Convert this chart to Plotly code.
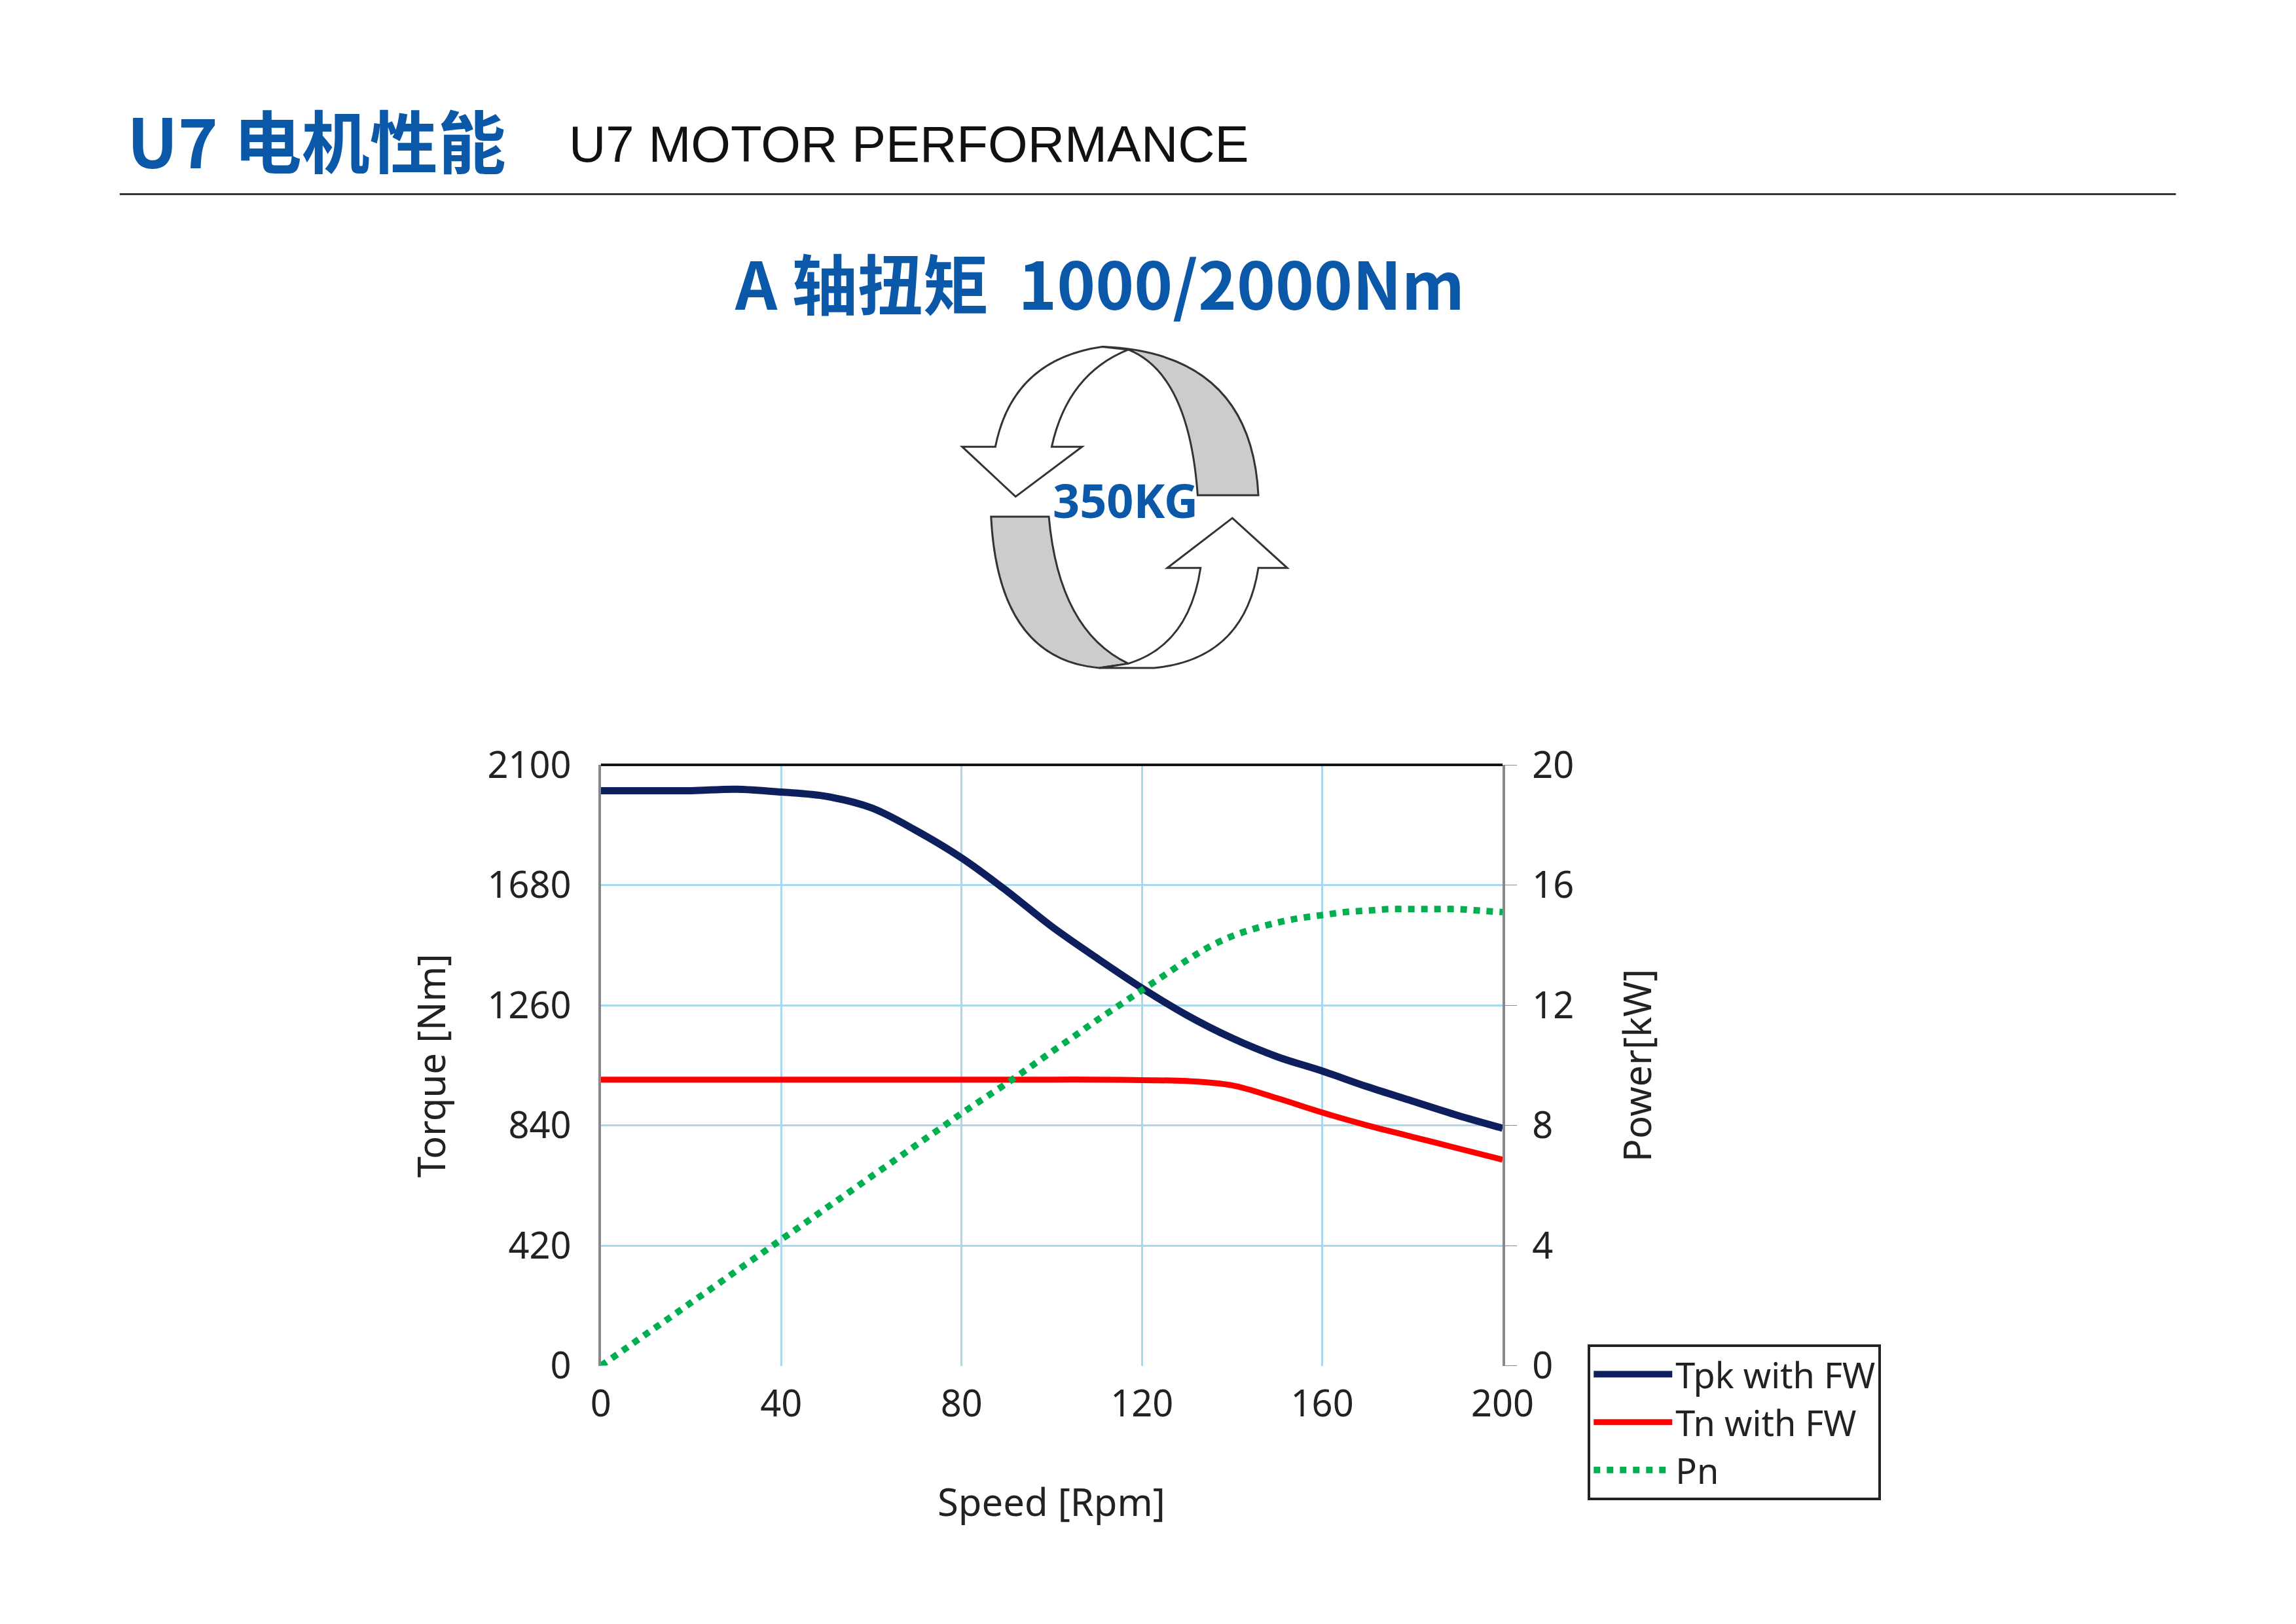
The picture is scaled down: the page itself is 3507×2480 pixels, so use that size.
import plotly.graph_objects as go

W, H = 3507, 2480
S = W / 1560.0  # reference drawn at ~1560 px wide

speed = [0, 10, 20, 30, 40, 50, 60, 70, 80, 90, 100, 110, 120, 130, 140, 150, 160, 170, 180, 190, 200]
tpk = [2010, 2010, 2010, 2015, 2005, 1990, 1950, 1870, 1775, 1660, 1535, 1425, 1320, 1225, 1145, 1080, 1030, 975, 925, 875, 830]
tn = [1000, 1000, 1000, 1000, 1000, 1000, 1000, 1000, 1000, 1000, 1000, 1000, 998, 995, 980, 935, 885, 840, 800, 760, 720]
pn_speed = [0, 5, 10, 15, 20, 25, 30, 35, 40, 45, 50, 55, 60, 65, 70, 75, 80, 85, 90, 95, 100,
            105, 110, 115, 120, 125, 130, 135, 140, 145, 150, 155, 160, 165, 170, 175, 180, 185, 190, 195, 200]
pn = [0, 0.52, 1.05, 1.57, 2.1, 2.62, 3.15, 3.67, 4.2, 4.72, 5.25, 5.77, 6.3, 6.82, 7.35, 7.87, 8.4, 8.9, 9.4, 9.92, 10.45,
      10.97, 11.5, 12.0, 12.5, 13.0, 13.5, 13.95, 14.3, 14.55, 14.75, 14.9, 15.0, 15.1, 15.15, 15.2, 15.2, 15.2, 15.2, 15.15, 15.1]

BLUE = "#0b57a8"
FONT = "Noto Sans"


def px(x):
    return x / 1560.0


def py(y):
    return 1 - y * S / H


fig = go.Figure()
fig.add_trace(go.Scatter(x=speed, y=tpk, name="Tpk with FW", mode="lines",
                         line=dict(color="#0d1f5c", width=11), line_shape="spline"))
fig.add_trace(go.Scatter(x=speed, y=tn, name="Tn with FW", mode="lines",
                         line=dict(color="#ff0000", width=9), line_shape="spline"))
fig.add_trace(go.Scatter(x=pn_speed, y=pn, name="Pn", mode="lines", yaxis="y2",
                         line=dict(color="#00b050", width=10, dash="dot"), line_shape="spline"))

x0, x1 = px(405), px(1029)
y0, y1 = py(935), py(514)
grid = "#a8d8f0"
tickf = dict(family=FONT, size=56, color="#222")

fig.update_layout(
    width=W, height=H, paper_bgcolor="white", plot_bgcolor="white",
    margin=dict(l=0, r=0, t=0, b=0), showlegend=True,
    font=dict(family=FONT),
    xaxis=dict(domain=[x0, x1], range=[0, 200], tickvals=[0, 40, 80, 120, 160, 200],
               showgrid=True, gridcolor=grid, gridwidth=3, zeroline=False,
               showline=False, ticks="", tickfont=tickf, ticklabelstandoff=20),
    yaxis=dict(domain=[y0, y1], range=[0, 2100], tickvals=[0, 420, 840, 1260, 1680, 2100],
               showgrid=True, gridcolor=grid, gridwidth=3, zeroline=False,
               showline=True, linecolor="#888", linewidth=4, ticks="outside",
               ticklen=0, tickfont=tickf, ticklabelstandoff=30),
    yaxis2=dict(overlaying="y", side="right", range=[0, 20], tickvals=[0, 4, 8, 12, 16, 20],
                showgrid=False, zeroline=False, showline=True, linecolor="#888", linewidth=4,
                ticks="outside", ticklen=18, tickcolor="#888", tickfont=tickf, ticklabelstandoff=12),
    legend=dict(x=px(1088), y=py(920), xanchor="left", yanchor="top",
                bordercolor="#222", borderwidth=4, bgcolor="white",
                font=dict(family=FONT, size=54, color="#222"),
                itemwidth=120, tracegroupgap=30),
)

shapes = [
    dict(type="line", xref="paper", yref="paper", x0=px(72), x1=px(1495), y0=py(114), y1=py(114),
         line=dict(color="#333", width=3)),
    dict(type="line", xref="paper", yref="paper", x0=x0, x1=x1, y0=y1, y1=y1,
         line=dict(color="#111", width=4)),
]


def path(pts):
    s = ""
    for cmd, *coords in pts:
        s += cmd
        vals = []
        for i in range(0, len(coords), 2):
            vals.append(f"{px(coords[i])},{py(coords[i+1])}")
        s += " ".join(vals) + " "
    return s + "Z"


icon = dict(xref="paper", yref="paper", line=dict(color="#333", width=3))
# top right gray band
shapes.append(dict(type="path", fillcolor="#cccccc", **icon, path=path([
    ("M", 752, 221), ("Q", 855, 225, 860, 325), ("L", 818, 325), ("Q", 812, 240, 770, 223)])))
# top left white arrow
shapes.append(dict(type="path", fillcolor="white", **icon, path=path([
    ("M", 752, 221), ("Q", 690, 230, 678, 291), ("L", 655, 291), ("L", 692, 326), ("L", 738, 291),
    ("L", 717, 291), ("Q", 728, 240, 770, 223)])))
# bottom left gray band
shapes.append(dict(type="path", fillcolor="#cccccc", **icon, path=path([
    ("M", 675, 340), ("L", 715, 340), ("Q", 722, 420, 770, 443), ("L", 750, 446),
    ("Q", 680, 440, 675, 340)])))
# bottom right white arrow
shapes.append(dict(type="path", fillcolor="white", **icon, path=path([
    ("M", 770, 443), ("Q", 812, 430, 820, 376), ("L", 797, 376), ("L", 842, 341), ("L", 880, 376),
    ("L", 860, 376), ("Q", 850, 440, 788, 446), ("L", 750, 446)])))
fig.update_layout(shapes=shapes)

ann = [
    dict(x=px(76), y=py(75), text="<b>U7 电机性能</b>", font=dict(size=104, color=BLUE, family="Noto Sans CJK SC"),
         xanchor="left", yanchor="middle"),
    dict(x=px(382), y=py(79), text="U7 MOTOR PERFORMANCE", font=dict(size=78, color="#111", family="Liberation Sans"),
         xanchor="left", yanchor="middle"),
    dict(x=px(750), y=py(175), text="<b>A 轴扭矩  1000/2000Nm</b>", font=dict(size=100, color=BLUE, family="Noto Sans CJK SC"),
         xanchor="center", yanchor="middle"),
    dict(x=px(768), y=py(328), text="<b>350KG</b>", font=dict(size=72, color=BLUE, family=FONT),
         xanchor="center", yanchor="middle"),
    dict(x=px(287), y=(y0 + y1) / 2, text="Torque [Nm]", textangle=-90, font=dict(size=58, color="#222", family=FONT),
         xanchor="center", yanchor="middle"),
    dict(x=px(1122), y=(y0 + y1) / 2, text="Power[kW]", textangle=-90, font=dict(size=58, color="#222", family=FONT),
         xanchor="center", yanchor="middle"),
    dict(x=(x0 + x1) / 2, y=py(1030), text="Speed [Rpm]", font=dict(size=58, color="#222", family=FONT),
         xanchor="center", yanchor="middle"),
]
for a in ann:
    a.update(xref="paper", yref="paper", showarrow=False)
fig.update_layout(annotations=ann)

fig.write_html("out.html")
